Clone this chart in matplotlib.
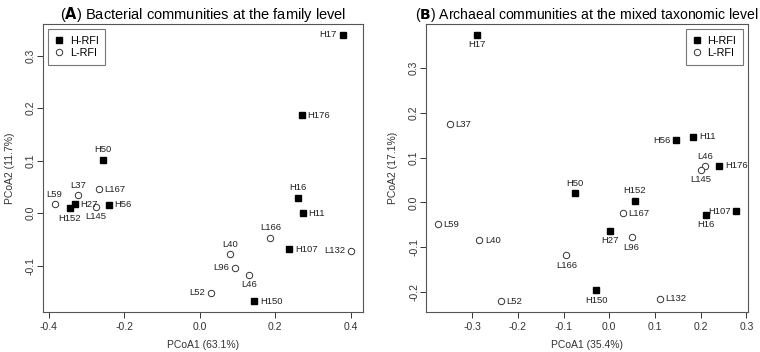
import matplotlib
matplotlib.use("Agg")
import matplotlib.pyplot as plt

plt.rcParams['font.family'] = ['Liberation Sans', 'DejaVu Sans']

# Panel A: bacterial communities (family level)
a_names = ["H17", "H176", "H50", "L59", "L37", "L167", "H27", "H152", "L145", "H56",
           "H16", "H11", "L166", "H107", "L132", "L40", "L96", "L46", "L52", "H150"]
a_x = [0.378, 0.271, -0.256, -0.385, -0.322, -0.268, -0.331, -0.345, -0.276, -0.242,
       0.259, 0.272, 0.187, 0.237, 0.400, 0.081, 0.092, 0.131, 0.029, 0.144]
a_y = [0.340, 0.187, 0.102, 0.017, 0.034, 0.046, 0.017, 0.009, 0.012, 0.016,
       0.029, 0.000, -0.047, -0.069, -0.072, -0.078, -0.104, -0.117, -0.152, -0.168]
a_pos = ["l", "r", "t", "t", "t", "r", "r", "b", "b", "r",
         "t", "r", "t", "r", "l", "t", "l", "b", "l", "r"]

# Panel B: archaeal communities (mixed taxonomic level)
b_names = ["H17", "L37", "H56", "H11", "L46", "L145", "H176", "H50", "H152", "L167",
           "H107", "H16", "L59", "L40", "H27", "L96", "L166", "H150", "L52", "L132"]
b_x = [-0.289, -0.349, 0.147, 0.184, 0.210, 0.200, 0.241, -0.076, 0.056, 0.030,
       0.278, 0.212, -0.375, -0.284, 0.001, 0.049, -0.094, -0.029, -0.237, 0.110]
b_y = [0.374, 0.174, 0.139, 0.146, 0.080, 0.073, 0.082, 0.020, 0.003, -0.024,
       -0.020, -0.028, -0.049, -0.085, -0.063, -0.078, -0.118, -0.196, -0.221, -0.215]
b_pos = ["b", "r", "l", "r", "t", "b", "r", "t", "t", "r",
         "l", "b", "r", "r", "b", "b", "b", "b", "r", "r"]

offsets = {"l": ((-4, 0), "right", "center"), "r": ((4, 0), "left", "center"),
           "t": ((0, 4), "center", "bottom"), "b": ((0, -4), "center", "top")}


def panel(ax, names, xs, ys, pos, title, tsize, xlabel, ylabel, xticks, yticks, legloc):
    for n, x, y in zip(names, xs, ys):
        if n.startswith("H"):
            ax.plot(x, y, "s", color="black", ms=3.8, zorder=3)
        else:
            ax.plot(x, y, "o", mfc="white", mec="#333333", mew=0.7, ms=4.6, zorder=3)
    for n, x, y, p in zip(names, xs, ys, pos):
        off, ha, va = offsets[p]
        ax.annotate(n, (x, y), xytext=off, textcoords="offset points",
                    ha=ha, va=va, fontsize=6.8, color="#222222")
    # R style 4% padding
    xr = max(xs) - min(xs)
    yr = max(ys) - min(ys)
    ax.set_xlim(min(xs) - 0.04 * xr, max(xs) + 0.04 * xr)
    ax.set_ylim(min(ys) - 0.04 * yr, max(ys) + 0.04 * yr)
    ax.set_xticks(xticks)
    ax.set_yticks(yticks)
    ax.set_xticklabels(["%.1f" % t for t in xticks])
    ax.set_yticklabels(["%.1f" % t for t in yticks], rotation=90, va="center")
    ax.tick_params(labelsize=7.5, length=4, width=0.7, colors="#333333", pad=3)
    ax.tick_params(axis="y", pad=1)
    for s in ax.spines.values():
        s.set_color("#555555")
        s.set_linewidth(0.8)
    ax.set_xlabel(xlabel, fontsize=7.5, color="#333333", labelpad=6)
    ax.set_ylabel(ylabel, fontsize=7.5, color="#333333", labelpad=8)
    ax.set_title(title, fontsize=tsize, pad=4)
    h1, = ax.plot([], [], "s", color="black", ms=3.8)
    h2, = ax.plot([], [], "o", mfc="white", mec="#333333", mew=0.7, ms=4.6)
    leg = ax.legend([h1, h2], ["H-RFI", "L-RFI"], loc=legloc, fontsize=7.8,
                    frameon=True, fancybox=False, handlelength=0.8,
                    handletextpad=0.6, borderpad=0.6, labelspacing=0.2)
    leg.get_frame().set_edgecolor("#555555")
    leg.get_frame().set_linewidth(0.8)


fig = plt.figure(figsize=(7.6, 3.52), dpi=100)
ax1 = fig.add_axes([0.0562, 0.1136, 0.421, 0.818])
ax2 = fig.add_axes([0.5605, 0.1136, 0.424, 0.818])

panel(ax1, a_names, a_x, a_y, a_pos,
      r"($\bf{A}$) Bacterial communities at the family level", 10.5,
      "PCoA1 (63.1%)", "PCoA2 (11.7%)",
      [-0.4, -0.2, 0.0, 0.2, 0.4], [-0.1, 0.0, 0.1, 0.2, 0.3], "upper left")
panel(ax2, b_names, b_x, b_y, b_pos,
      r"($\bf{B}$) Archaeal communities at the mixed taxonomic level", 10.1,
      "PCoA1 (35.4%)", "PCoA2 (17.1%)",
      [-0.3, -0.2, -0.1, 0.0, 0.1, 0.2, 0.3], [-0.2, -0.1, 0.0, 0.1, 0.2, 0.3], "upper right")

fig.savefig("out.png", dpi=100)
